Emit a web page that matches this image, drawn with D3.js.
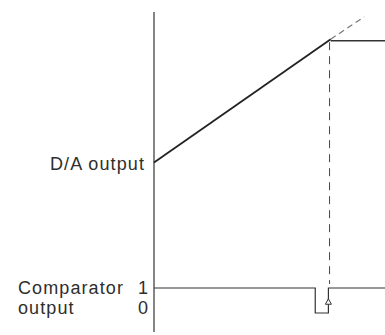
<!DOCTYPE html>
<html>
<head>
<meta charset="utf-8">
<script src="https://cdn.jsdelivr.net/npm/d3@7"></script>
<style>
  body { margin: 0; background: #fff; }
  text { font-family: "Liberation Sans", Arial, sans-serif; fill: #2e2e2e; letter-spacing: 1.1px; }
</style>
</head>
<body>
<svg id="chart"></svg>
<script>
// time in arbitrary units, voltage in arbitrary units
const da_ramp = [{t: 0, v: 5.3}, {t: 7.65, v: 9.15}]
const da_hold = [{t: 7.65, v: 9.1}, {t: 10, v: 9.1}]
const da_extension = [{t: 7.65, v: 9.15}, {t: 9.1, v: 9.85}]
const comparator = [
    {t: 0, c: 1}, {t: 6.98, c: 1}, {t: 6.98, c: 0},
    {t: 7.55, c: 0}, {t: 7.55, c: 1}, {t: 10, c: 1}
]
const trigger_t = 7.6
const comp_labels = [{c: 1, label: '1', row: 'Comparator'}, {c: 0, label: '0', row: 'output'}]

width = 385
height = 335

const svg = d3.select('#chart')
              .attr('width', width)
              .attr('height', height)

const xScale = d3.scaleLinear([0, 10], [154, 385])
const yScale = d3.scaleLinear([0, 10], [332, 12])
const cScale = d3.scaleLinear([0, 1], [313, 288])

// vertical axis
svg.append('line')
   .attr('x1', xScale(0)).attr('x2', xScale(0))
   .attr('y1', yScale(10)).attr('y2', yScale(0))
   .attr('stroke', '#333')
   .attr('stroke-width', 1.2)

const daLine = d3.line().x(d => xScale(d.t)).y(d => yScale(d.v))

svg.append('path')
   .attr('d', daLine(da_ramp))
   .attr('fill', 'none')
   .attr('stroke', '#222')
   .attr('stroke-width', 1.8)

svg.append('path')
   .attr('d', daLine(da_hold))
   .attr('fill', 'none')
   .attr('stroke', '#333')
   .attr('stroke-width', 1.4)

svg.append('path')
   .attr('d', daLine(da_extension))
   .attr('fill', 'none')
   .attr('stroke', '#777')
   .attr('stroke-width', 1.2)
   .attr('stroke-dasharray', '6,4')

// vertical dashed marker from the knee down to the comparator
svg.append('line')
   .attr('x1', xScale(trigger_t)).attr('x2', xScale(trigger_t))
   .attr('y1', yScale(9.15) + 3).attr('y2', cScale(1) - 4)
   .attr('stroke', '#444')
   .attr('stroke-width', 1)
   .attr('stroke-dasharray', '8,6')

const compLine = d3.line().x(d => xScale(d.t)).y(d => cScale(d.c))

svg.append('path')
   .attr('d', compLine(comparator))
   .attr('fill', 'none')
   .attr('stroke', '#333')
   .attr('stroke-width', 1.2)

// open arrow head on the rising edge
ax = xScale(comparator[4].t)
svg.append('path')
   .attr('d', `M${ax},${cScale(0.57)} L${ax - 3},${cScale(0.35)} L${ax + 3},${cScale(0.35)} Z`)
   .attr('fill', '#fff')
   .attr('stroke', '#333')
   .attr('stroke-width', 1)

// labels
svg.append('text')
   .attr('x', 145)
   .attr('y', 170)
   .attr('text-anchor', 'end')
   .attr('font-size', 18)
   .text('D/A output')

// baselines of the two comparator rows
rowY = c => c == 1 ? 294 : 314

svg.selectAll('.clab')
   .data(comp_labels)
   .join('text')
   .attr('class', 'clab')
   .attr('x', 149)
   .attr('y', d => rowY(d.c))
   .attr('text-anchor', 'end')
   .attr('font-size', 18)
   .text(d => d.label)

svg.selectAll('.crow')
   .data(comp_labels)
   .join('text')
   .attr('class', 'crow')
   .attr('x', 18)
   .attr('y', d => rowY(d.c))
   .attr('font-size', 18)
   .text(d => d.row)
</script>
</body>
</html>
